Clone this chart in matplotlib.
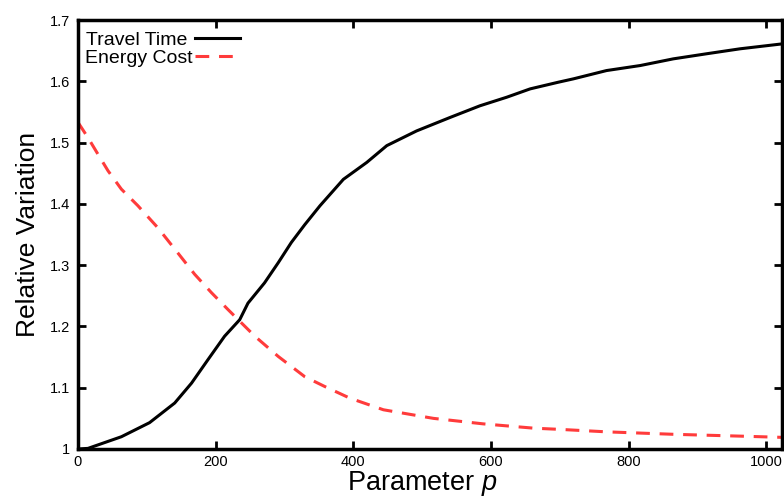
import matplotlib
matplotlib.use("Agg")
import matplotlib.pyplot as plt

plt.rcParams['font.family'] = ['Liberation Sans', 'DejaVu Sans']
plt.rcParams['mathtext.fontset'] = 'custom'
plt.rcParams['mathtext.rm'] = 'Liberation Sans'
plt.rcParams['mathtext.it'] = 'Liberation Sans:italic'

travel_x = [0, 14.5, 63, 104, 140.5, 165, 189, 213, 235, 247, 271, 291, 310, 329.5, 351.7,
            385.6, 419.6, 448.7, 492, 540.7, 584, 623, 657, 698, 720, 768, 817, 865, 914, 962, 1023]
travel_y = [1.0, 1.001, 1.020, 1.043, 1.075, 1.1075, 1.146, 1.184, 1.211, 1.238, 1.271, 1.304,
            1.337, 1.366, 1.397, 1.440, 1.4676, 1.495, 1.519, 1.541, 1.560, 1.574, 1.5876, 1.5985,
            1.604, 1.6175, 1.6257, 1.6366, 1.645, 1.653, 1.661]

energy_x = [0, 14.5, 29, 43.6, 63, 87, 116, 145, 169.6, 194, 218, 257, 291, 329.5, 358.5, 395,
            443.8, 516.4, 589, 662, 700.6, 768, 865, 962, 1023]
energy_y = [1.533, 1.508, 1.481, 1.454, 1.424, 1.397, 1.361, 1.320, 1.285, 1.255, 1.2275, 1.184,
            1.151, 1.118, 1.102, 1.083, 1.064, 1.050, 1.041, 1.034, 1.032, 1.028, 1.024, 1.021, 1.019]

x_ticks = [0, 200, 400, 600, 800, 1000]
y_ticks = [1, 1.1, 1.2, 1.3, 1.4, 1.5, 1.6, 1.7]
y_labels = ['1', '1.1', '1.2', '1.3', '1.4', '1.5', '1.6', '1.7']

fig = plt.figure(figsize=(7.84, 4.97), dpi=100)
ax = fig.add_axes([78/784, (497-449)/497, (782-78)/784, (449-20)/497])

ax.plot(travel_x, travel_y, color='black', lw=2.2, label='Travel Time\u00a0')
ax.plot(energy_x, energy_y, color='#ff3b3b', lw=2.2, dashes=(4.5, 3.2), label='Energy Cost')

ax.set_xlim(0, 1023)
ax.set_ylim(1, 1.7)
ax.set_xticks(x_ticks)
ax.set_xticklabels([str(t) for t in x_ticks])
ax.set_yticks(y_ticks)
ax.set_yticklabels(y_labels)
ax.tick_params(direction='in', length=6, width=2, top=True, right=True, labelsize=10.5, pad=6)
ax.tick_params(axis='x', pad=4.5)
for s in ax.spines.values():
    s.set_linewidth(2.5)

ax.set_xlabel('Parameter $\\it{p}$', fontsize=19.5)
ax.xaxis.set_label_coords(0.4886, -0.047, transform=ax.transAxes)
ax.xaxis.label.set_va('top')
ax.set_ylabel('Relative Variation', fontsize=19, labelpad=6.5)

leg = ax.legend(loc='upper left', frameon=False, markerfirst=False, fontsize=14,
                handlelength=2.3, handletextpad=0.1, labelspacing=0.0,
                borderaxespad=0.2, bbox_to_anchor=(-0.006, 1.0))

fig.savefig('out.png', dpi=100)
